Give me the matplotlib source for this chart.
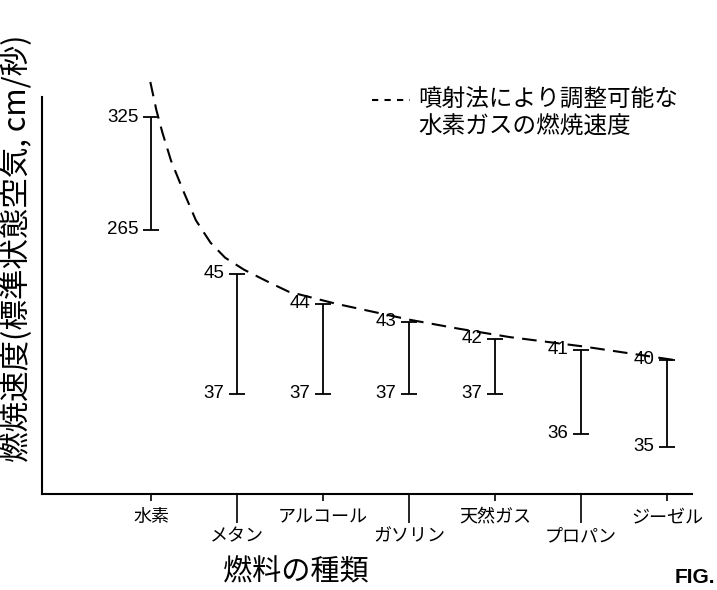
import numpy as np
import matplotlib
matplotlib.use('Agg')
import matplotlib.pyplot as plt
from matplotlib.lines import Line2D

plt.rcParams['font.family'] = ['Noto Sans CJK JP', 'DejaVu Sans']

# fuel types and the burning speed range of each one
fuels = ['水素', 'メタン', 'アルコール', 'ガソリン', '天然ガス', 'プロパン', 'ジーゼル']
speed_low = [265, 37, 37, 37, 37, 36, 35]
speed_high = [325, 45, 44, 43, 42, 41, 40]

# dashed curve: hydrogen burning speed adjustable by injection
curve_x = [-0.01, 0.06, 0.13, 0.23, 0.38, 0.52, 0.69, 0.86, 1.08, 1.38,
           1.60, 2.15, 3.02, 3.57, 4.17, 5.03, 6.07]
curve_y = [344, 329, 317, 302, 285, 270, 200, 125, 65, 44.7,
           44.4, 44.0, 43.1, 42.6, 42.1, 41.3, 40.0]

# the original axis is schematic (not to scale), so use a piecewise scale
knot_vals = [0, 35, 36, 37, 40, 41, 42, 43, 44, 45, 265, 325, 400]
knot_pos = [0, 47, 60, 100, 134, 144, 155, 172, 190, 220, 264, 376, 516]


def fwd(v):
    return np.interp(v, knot_vals, knot_pos)


def inv(p):
    return np.interp(p, knot_pos, knot_vals)


fig = plt.figure(figsize=(7.17, 5.9), dpi=100)
ax = fig.add_axes([0.0586, 0.1627, 0.9064, 0.673])
ax.set_yscale('function', functions=(fwd, inv))

x = np.arange(len(fuels))
low = np.array(speed_low)
high = np.array(speed_high)
ax.errorbar(x, low, yerr=[np.zeros(len(x)), high - low], fmt='none',
            ecolor='black', elinewidth=1.3, capsize=6, capthick=1.3)

for xi, lo, hi in zip(x, speed_low, speed_high):
    for v in (lo, hi):
        ax.annotate(str(v), (xi, v), xytext=(-9, 0), textcoords='offset points',
                    ha='right', va='center', fontsize=13.5,
                    family=['Liberation Sans', 'DejaVu Sans'])

ax.plot(curve_x, curve_y, color='black', lw=1.5, linestyle=(0, (7, 4)),
        clip_on=False)

ax.set_xlim(-1.27, 6.29)
ax.set_ylim(0, 336)

for s in ['top', 'right']:
    ax.spines[s].set_visible(False)
for s in ['left', 'bottom']:
    ax.spines[s].set_linewidth(1.5)

ax.set_yticks([])
ax.yaxis.set_minor_locator(plt.NullLocator())

# alternating short / long ticks like the original
ax.set_xticks(x[::2], labels=fuels[::2])
ax.set_xticks(x[1::2], labels=fuels[1::2], minor=True)
ax.tick_params(axis='x', which='major', length=5, width=1.2, pad=5, labelsize=13)
ax.tick_params(axis='x', which='minor', length=21, width=1.2, pad=3, labelsize=13)

ax.set_xlabel('燃料の種類', fontsize=21, labelpad=4)
ax.xaxis.set_label_coords(0.39, -0.16)

fig.text(0.024, 0.58, '燃焼速度(標準状態空気, cm/秒)', rotation=90,
         ha='center', va='center', fontsize=22)

# legend drawn by hand
fig.add_artist(Line2D([372 / 717, 410 / 717], [0.8305, 0.8305], color='black',
                      lw=1.5, linestyle=(0, (3, 3))))
fig.text(0.583, 0.8305, '噴射法により調整可能な', ha='left', va='center', fontsize=17)
fig.text(0.583, 0.7847, '水素ガスの燃焼速度', ha='left', va='center', fontsize=17)

fig.text(0.997, 0.005, 'FIG.', ha='right', va='bottom', fontsize=15,
         fontweight='bold', family=['Liberation Sans', 'DejaVu Sans'])

fig.savefig('out.png', dpi=100)
